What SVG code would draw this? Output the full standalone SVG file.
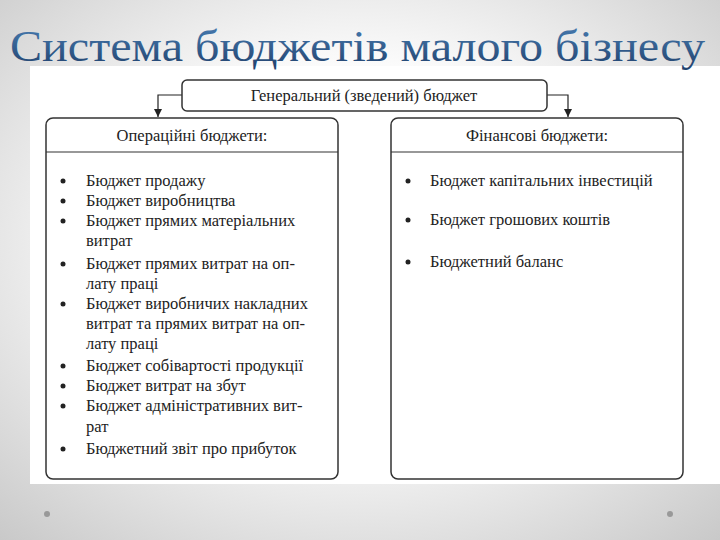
<svg xmlns="http://www.w3.org/2000/svg" width="720" height="540" viewBox="0 0 720 540">
<defs>
<radialGradient id="bg" cx="0.5" cy="0.45" r="0.75"><stop offset="0.4" stop-color="#ffffff"/><stop offset="1" stop-color="#c8c8c8"/></radialGradient>
<linearGradient id="tg" x1="0" y1="0" x2="0" y2="1"><stop offset="0" stop-color="#4a7fb5"/><stop offset="1" stop-color="#1f3f6a"/></linearGradient>
<marker id="arr" viewBox="0 0 10 10" refX="10" refY="5" markerWidth="8" markerHeight="8" orient="auto" markerUnits="userSpaceOnUse"><path d="M0,0 L10,5 L0,10 Z" fill="#222"/></marker>
</defs>
<style>
text{font-family:"Liberation Serif","Times New Roman","DejaVu Serif",serif}
.box{fill:#fff;stroke:#333;stroke-width:1.5}
.t{font-size:16.5px;fill:#222}
.h{font-size:16.5px;fill:#222;text-anchor:middle}
.c{fill:none;stroke:#222;stroke-width:1.2}
</style>
<rect width="720" height="540" fill="url(#bg)"/>
<rect x="30" y="66" width="690" height="418" fill="#fff"/>
<text x="10" y="61" font-size="44" fill="url(#tg)" textLength="695" lengthAdjust="spacingAndGlyphs">Система бюджетів малого бізнесу</text>
<g id="connectors">
<path class="c" d="M182,95 H158 V117" marker-end="url(#arr)"/>
<path class="c" d="M547,95 H568 V117" marker-end="url(#arr)"/>
</g>
<g id="general">
<rect class="box" x="182" y="80" width="365" height="31" rx="5"/>
<text class="h" x="364" y="101">Генеральний (зведений) бюджет</text>
</g>
<g id="operational">
<rect class="box" x="46" y="118" width="292" height="361" rx="7"/>
<line x1="46" y1="152" x2="338" y2="152" stroke="#333" stroke-width="1.2"/>
<text class="h" x="192" y="141">Операційні бюджети:</text>
<g fill="#222">
<circle cx="63" cy="181" r="2.5"/><circle cx="63" cy="201" r="2.5"/><circle cx="63" cy="221" r="2.5"/><circle cx="63" cy="264" r="2.5"/><circle cx="63" cy="304" r="2.5"/><circle cx="63" cy="366" r="2.5"/><circle cx="63" cy="386" r="2.5"/><circle cx="63" cy="406" r="2.5"/><circle cx="63" cy="449" r="2.5"/>
</g>
<text class="t" x="86" y="186">Бюджет продажу</text>
<text class="t" x="86" y="206">Бюджет виробництва</text>
<text class="t" x="86" y="226">Бюджет прямих матеріальних</text>
<text class="t" x="86" y="246">витрат</text>
<text class="t" x="86" y="269">Бюджет прямих витрат на оп-</text>
<text class="t" x="86" y="289">лату праці</text>
<text class="t" x="86" y="309">Бюджет виробничих накладних</text>
<text class="t" x="86" y="329">витрат та прямих витрат на оп-</text>
<text class="t" x="86" y="349">лату праці</text>
<text class="t" x="86" y="371">Бюджет собівартості продукції</text>
<text class="t" x="86" y="391">Бюджет витрат на збут</text>
<text class="t" x="86" y="411">Бюджет адміністративних вит-</text>
<text class="t" x="86" y="432">рат</text>
<text class="t" x="86" y="454">Бюджетний звіт про прибуток</text>
</g>
<g id="financial">
<rect class="box" x="391" y="118" width="292" height="361" rx="7"/>
<line x1="391" y1="152" x2="683" y2="152" stroke="#333" stroke-width="1.2"/>
<text class="h" x="537" y="141">Фінансові бюджети:</text>
<g fill="#222"><circle cx="408" cy="181" r="2.5"/><circle cx="408" cy="220" r="2.5"/><circle cx="408" cy="262" r="2.5"/></g>
<text class="t" x="430" y="186">Бюджет капітальних інвестицій</text>
<text class="t" x="430" y="225">Бюджет грошових коштів</text>
<text class="t" x="430" y="267">Бюджетний баланс</text>
</g>
<circle cx="47" cy="514" r="3" fill="#999"/>
<circle cx="670" cy="514" r="3" fill="#999"/>
</svg>
